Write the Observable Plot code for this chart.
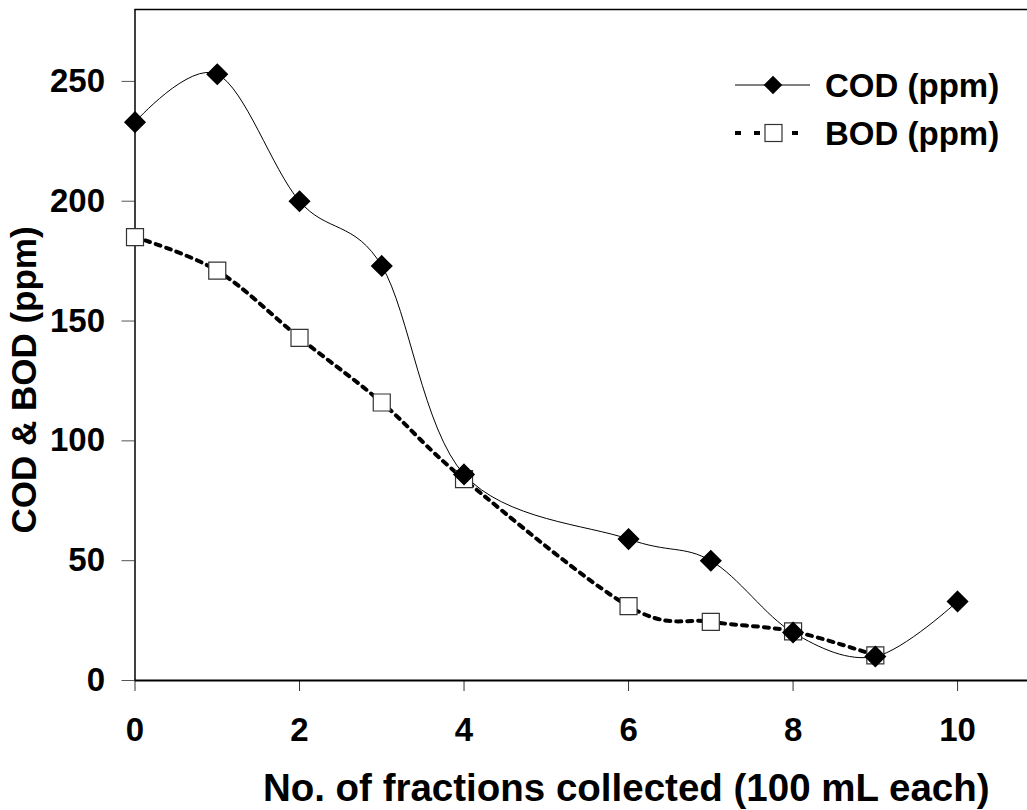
<!DOCTYPE html>
<html><head><meta charset="utf-8">
<script src="https://cdn.jsdelivr.net/npm/d3@7"></script>
<script src="https://cdn.jsdelivr.net/npm/@observablehq/plot@0.6"></script>
<style>body{margin:0;background:#fff} svg{display:block}</style>
</head><body><div id="chart"></div>
<script>
// Data
const codFractions = [0, 1, 2, 3, 4, 6, 7, 8, 9, 10];
const codValues    = [233, 253, 200, 173, 86, 59, 50, 20, 10, 33];
const bodFractions = [0, 1, 2, 3, 4, 6, 7, 8, 9];
const bodValues    = [185, 171, 143, 116, 84, 31, 24.5, 20.5, 10.5];
const xTicks = [0, 2, 4, 6, 8, 10];
const yTicks = [0, 50, 100, 150, 200, 250];
const seriesNames = ["COD (ppm)", "BOD (ppm)"];
const xLabel = "No. of fractions collected (100 mL each)";
const yLabel = "COD & BOD (ppm)";

const cod = codFractions.map((x, i) => ({x, y: codValues[i]}));
const bod = bodFractions.map((x, i) => ({x, y: bodValues[i]}));

const FONT = "'Liberation Sans', Arial, sans-serif";
const W = 1027, H = 810;
const mL = 134.5, mT = 9, mB = 130, mR = 0;
const xMax = 10.85, yMax = 280;

const plot = Plot.plot({
  width: W, height: H,
  marginLeft: mL, marginTop: mT, marginBottom: mB, marginRight: mR,
  style: {fontFamily: FONT, fontWeight: "bold", background: "#fff", color: "#000", overflow: "visible"},
  x: {domain: [0, xMax]},
  y: {domain: [0, yMax]},
  marks: [
    Plot.axisX({ticks: xTicks, tickSize: 11, tickPadding: 26, fontSize: 33, fontWeight: "bold", label: null, stroke: "#333"}),
    Plot.axisY({ticks: yTicks, tickSize: 13, tickPadding: 17, fontSize: 33, fontWeight: "bold", label: null, stroke: "#555"}),
    Plot.ruleY([yMax], {stroke: "#000", strokeWidth: 1.5}),
    Plot.ruleX([0], {stroke: "#000", strokeWidth: 1.5}),
    Plot.ruleY([0], {stroke: "#000", strokeWidth: 2}),
    Plot.line(bod, {x: "x", y: "y", curve: "cardinal", stroke: "#000", strokeWidth: 4, strokeDasharray: "5,6"}),
    Plot.line(cod, {x: "x", y: "y", curve: "cardinal", stroke: "#000", strokeWidth: 1}),
    Plot.dot(bod, {x: "x", y: "y", symbol: "square", r: 9.6, fill: "#fff", stroke: "#333", strokeWidth: 1.2}),
    Plot.dot(cod, {x: "x", y: "y", symbol: "diamond2", r: 9, fill: "#000", stroke: "#000"}),
    Plot.text([xLabel], {frameAnchor: "bottom", text: d => d, textAnchor: "middle", dx: 45, dy: 120, lineAnchor: "bottom", fontSize: 38.5, fontWeight: "bold", fill: "#000"}),
    Plot.text([yLabel], {frameAnchor: "left", text: d => d, textAnchor: "middle", dx: -110, dy: 35, rotate: -90, fontSize: 35, fontWeight: "bold", fill: "#000"})
  ]
});
document.getElementById("chart").appendChild(plot);

// Legend (inside the plot, top right)
const svg = d3.select(plot);
const lg = svg.append("g").attr("font-family", FONT).attr("font-weight", "bold").attr("font-size", 33).attr("text-anchor", "start");
const legendRows = [
  {name: seriesNames[0], y: 85, dash: null, width: 1, sym: "diamond"},
  {name: seriesNames[1], y: 133, dash: "6,13", width: 4, sym: "square"}
];
for (const r of legendRows) {
  lg.append("line").attr("x1", 735).attr("x2", 810).attr("y1", r.y).attr("y2", r.y)
    .attr("stroke", "#000").attr("stroke-width", r.width).attr("stroke-dasharray", r.dash);
  if (r.sym === "diamond") {
    lg.append("path").attr("d", d3.symbol(d3.symbolDiamond2, 220)()).attr("transform", `translate(773,${r.y})`).attr("fill", "#000");
  } else {
    lg.append("rect").attr("x", 765).attr("y", r.y - 8.5).attr("width", 17).attr("height", 17)
      .attr("fill", "#fff").attr("stroke", "#333").attr("stroke-width", 1.2);
  }
  lg.append("text").attr("x", 825).attr("y", r.y + 12).attr("fill", "#000").text(r.name);
}
</script>
</body></html>
